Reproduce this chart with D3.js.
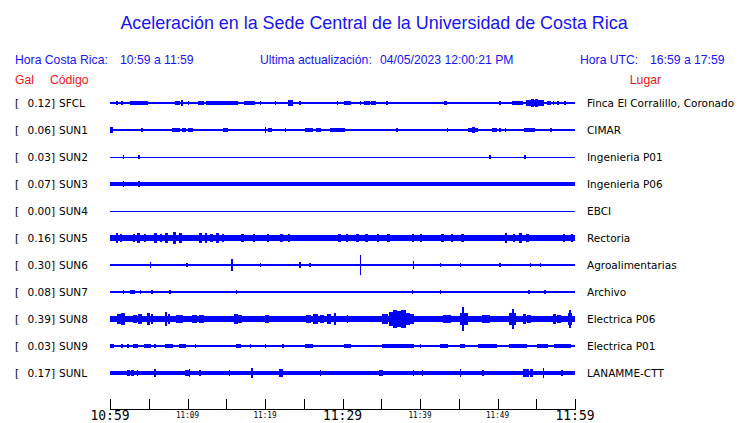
<!DOCTYPE html>
<html><head><meta charset="utf-8">
<script src="https://cdn.jsdelivr.net/npm/d3@7"></script>
<style>body{margin:0;background:#fff}svg{display:block}</style>
</head><body>
<script>
// ---- data ----
const stationCodes = ["SFCL","SUN1","SUN2","SUN3","SUN4","SUN5","SUN6","SUN7","SUN8","SUN9","SUNL"];
const stationGal = ["0.12","0.06","0.03","0.07","0.00","0.16","0.30","0.08","0.39","0.03","0.17"];
const stationPlaces = ["Finca El Corralillo, Coronado","CIMAR","Ingenieria P01","Ingenieria P06","EBCI","Rectoria","Agroalimentarias","Archivo","Electrica P06","Electrica P01","LANAMME-CTT"];
// background noise half-amplitude (Gal)
const baseAmp = [0.025,0.022,0,0.06,0,0.11,0.045,0.045,0.1,0.025,0.075];
// bursts: [start minute, end minute, half-amplitude Gal], minutes after 10:59
const evSFCL = [[0.9,0.9,0.05],[1.5,1.5,0.05],[2.6,4.8,0.06],[8.4,9.0,0.06],[9.2,9.4,0.09],[10.1,10.1,0.05],[11.4,12.0,0.06],[12.5,13.5,0.08],[13.5,16.4,0.06],[17.4,18.7,0.06],[19.4,19.4,0.05],[21.3,21.4,0.065],[23.0,23.6,0.09],[24.5,24.5,0.05],[27.1,27.1,0.04],[29.3,29.4,0.065],[30.3,31.0,0.05],[32.3,32.3,0.05],[32.9,33.5,0.06],[33.8,34.2,0.05],[35.7,35.8,0.05],[38.6,38.6,0.04],[43.2,43.4,0.065],[50.3,50.3,0.05],[51.0,51.0,0.04],[51.9,53.2,0.06],[53.8,55.9,0.09],[54.4,54.6,0.13],[54.9,55.2,0.12],[56.4,56.8,0.06],[57.2,57.2,0.05],[57.8,57.8,0.05],[58.7,58.7,0.05],[59.4,59.4,0.04]];
const evSUN1 = [[0,0.3,0.1],[4.1,4.2,0.06],[4.8,4.8,0.04],[8.1,8.6,0.08],[8.6,9.0,0.06],[9.3,9.7,0.06],[10.1,10.7,0.06],[14.6,15.2,0.06],[15.7,15.7,0.04],[20.0,20.0,0.1],[20.4,20.9,0.06],[22.6,22.6,0.05],[25.2,26.1,0.08],[26.7,27.1,0.06],[28.4,30.3,0.06],[37.0,37.0,0.05],[37.4,37.4,0.04],[38.3,38.3,0.04],[42.2,42.2,0.04],[43.5,43.6,0.065],[46.2,47.4,0.07],[46.8,47.0,0.1],[49.4,49.9,0.06],[50.3,50.3,0.05],[51.0,51.0,0.05],[53.5,54.8,0.07],[55.5,55.5,0.04],[56.8,57.0,0.065],[59.0,59.0,0.04],[59.7,59.7,0.04]];
const evSUN2 = [[1.7,1.7,0.05],[3.7,3.7,0.05],[49.0,49.0,0.05],[53.5,53.5,0.05]];
const evSUN3 = [[1.7,1.7,0.1],[3.7,3.7,0.1],[18.1,18.1,0.08],[49.0,49.0,0.08],[54.8,54.8,0.08]];
const evSUN4 = [];
const evSUN5 = [[0.8,1.0,0.15],[1.3,1.5,0.14],[3.0,3.2,0.14],[3.6,3.8,0.15],[4.4,4.6,0.14],[5.8,6.0,0.15],[6.5,6.7,0.14],[7.2,7.4,0.15],[8.2,8.4,0.18],[9.0,9.2,0.15],[11.6,11.8,0.15],[12.3,12.5,0.16],[13.0,13.2,0.14],[13.8,14.0,0.15],[14.5,14.7,0.14],[17.0,17.2,0.13],[18.5,18.7,0.13],[20.3,20.5,0.13],[22.0,22.2,0.14],[23.0,23.2,0.14],[29.5,29.7,0.14],[30.5,30.7,0.13],[31.8,32.0,0.14],[33.0,33.2,0.14],[34.5,34.7,0.13],[35.8,36.0,0.14],[39.0,39.2,0.14],[40.0,40.2,0.13],[42.8,43.0,0.14],[44.0,44.2,0.14],[45.4,45.6,0.13],[51.0,51.2,0.15],[52.0,52.2,0.14],[52.9,53.1,0.16],[53.8,54.0,0.14],[58.5,58.7,0.13],[59.5,59.7,0.13]];
const evSUN6 = [[5.2,5.2,0.1],[9.9,9.9,0.08],[15.7,15.7,0.18],[19.4,19.4,0.065],[24.5,24.5,0.1],[25.8,25.8,0.08],[32.3,32.3,0.32],[39.1,39.1,0.13],[42.6,42.7,0.065],[45.2,45.2,0.065],[50.3,50.3,0.065],[54.2,54.2,0.08],[55.5,55.5,0.065]];
const evSUN7 = [[1.7,1.7,0.07],[2.6,3.2,0.065],[3.9,3.9,0.065],[5.4,5.4,0.07],[7.7,7.7,0.065],[16.3,16.3,0.07],[39.0,39.0,0.065],[42.6,42.6,0.08],[54.0,54.0,0.08],[56.1,56.1,0.065]];
const evSUN8 = [[1.0,1.3,0.16],[1.5,1.9,0.18],[3.0,3.4,0.14],[3.7,4.1,0.16],[4.8,5.1,0.19],[5.3,5.5,0.15],[7.1,7.3,0.21],[7.5,7.7,0.17],[8.6,9.3,0.13],[10.7,11.2,0.13],[11.6,12.0,0.12],[16.1,16.4,0.16],[16.6,17.0,0.14],[20.0,20.4,0.13],[25.4,25.9,0.14],[26.3,26.8,0.15],[27.2,27.6,0.13],[28.0,28.4,0.15],[29.0,29.0,0.18],[30.6,30.6,0.13],[35.2,35.8,0.16],[36.0,36.5,0.22],[36.6,37.0,0.29],[37.1,37.5,0.26],[37.6,38.1,0.29],[38.2,38.7,0.2],[38.8,39.1,0.15],[43.0,43.4,0.13],[43.6,43.9,0.12],[45.2,45.4,0.2],[45.5,45.6,0.39],[45.7,46.1,0.18],[48.0,48.4,0.13],[48.6,49.0,0.12],[51.6,51.8,0.2],[51.9,52.0,0.33],[52.1,52.3,0.18],[53.3,53.6,0.16],[53.9,54.2,0.14],[57.2,57.5,0.16],[57.8,58.1,0.14],[59.1,59.2,0.2],[59.3,59.4,0.29],[59.5,59.6,0.2]];
const evSUN9 = [[0,0.4,0.06],[1.5,1.5,0.06],[2.3,2.3,0.06],[3.0,3.5,0.06],[4.5,5.2,0.06],[5.8,5.8,0.06],[7.1,8.0,0.06],[9.0,9.7,0.06],[11.0,11.0,0.06],[16.3,16.8,0.06],[18.1,18.1,0.06],[20.0,20.0,0.06],[22.3,22.3,0.06],[25.2,26.1,0.06],[30.3,31.0,0.06],[35.2,39.1,0.06],[40.0,40.0,0.06],[42.6,43.5,0.06],[45.2,45.8,0.06],[47.5,49.9,0.06],[51.6,53.8,0.06],[55.2,56.5,0.06],[57.4,59.4,0.06]];
const evSUNL = [[2.3,2.5,0.11],[2.8,3.0,0.1],[3.5,3.5,0.1],[5.8,5.8,0.13],[9.7,10.1,0.11],[10.2,10.2,0.145],[11.6,11.6,0.11],[15.4,15.4,0.11],[18.3,18.3,0.177],[21.9,22.3,0.12],[27.1,27.1,0.11],[34.8,35.2,0.1],[39.1,39.1,0.11],[40.3,40.3,0.11],[45.2,45.2,0.145],[48.1,48.1,0.1],[53.3,53.6,0.14],[53.8,54.0,0.12],[54.2,54.5,0.145],[55.9,55.9,0.177],[58.3,58.3,0.11]];
const stationEvents = [evSFCL,evSUN1,evSUN2,evSUN3,evSUN4,evSUN5,evSUN6,evSUN7,evSUN8,evSUN9,evSUNL];
const tickMinutes = [0,5,10,15,20,25,30,35,40,45,50,55,60];
const tickLabels = {0:"10:59",10:"11:09",20:"11:19",30:"11:29",40:"11:39",50:"11:49",60:"11:59"};
const bigTicks = [0,30,60];

// ---- drawing ----
const W = 740, H = 423;
const blue = "#1414f5", red = "#f01414";
const svg = d3.select("body").append("svg").attr("width", W).attr("height", H);

const x = d3.scaleLinear().domain([0, 60]).range([110, 575]);
const y = d3.scalePoint().domain(stationCodes).range([103, 373]);
const amp = d3.scaleLinear().domain([0, 0.4]).range([0, 12.4]);

svg.append("text").attr("x", 374).attr("y", 29).attr("text-anchor", "middle")
  .attr("font-family", "Liberation Sans, Arial, sans-serif").attr("font-size", 17.9)
  .attr("fill", blue).text("Aceleración en la Sede Central de la Universidad de Costa Rica");

const hdr = [["Hora Costa Rica:",15],["10:59 a 11:59",120],["Ultima actualización:",260],["04/05/2023 12:00:21 PM",380],["Hora UTC:",580],["16:59 a 17:59",650]];
svg.selectAll("text.hdr").data(hdr).join("text").attr("class","hdr")
  .attr("x", d => d[1]).attr("y", 64).attr("font-family", "Liberation Sans, Arial, sans-serif")
  .attr("font-size", 12.2).attr("fill", blue).text(d => d[0]);
const hdr2 = [["Gal",15,"start"],["Código",50,"start"],["Lugar",661,"end"]];
svg.selectAll("text.hdr2").data(hdr2).join("text").attr("class","hdr2")
  .attr("x", d => d[1]).attr("y", 84).attr("text-anchor", d => d[2])
  .attr("font-family", "Liberation Sans, Arial, sans-serif")
  .attr("font-size", 12.2).attr("fill", red).text(d => d[0]);

const rows = svg.selectAll("g.row").data(stationCodes).join("g").attr("class", "row")
  .attr("transform", d => `translate(0,${y(d)})`);
const lf = "DejaVu Sans, sans-serif", fs = 10.5;
rows.append("text").attr("x", 15).attr("y", 4).attr("font-family", lf).attr("font-size", fs).text("[");
rows.append("text").attr("x", 55).attr("y", 4).attr("text-anchor", "end").attr("font-family", lf).attr("font-size", fs)
  .text((d, i) => stationGal[i] + "]");
rows.append("text").attr("x", 59).attr("y", 4).attr("font-family", lf).attr("font-size", fs).text(d => d);
rows.append("text").attr("x", 587).attr("y", 4).attr("font-family", lf).attr("font-size", fs)
  .text((d, i) => stationPlaces[i]);

rows.each(function(d, i) {
  const g = d3.select(this).append("g").attr("fill", "#0000ff").attr("shape-rendering", "crispEdges");
  const bh = Math.max(1, 2 * amp(baseAmp[i]));
  g.append("rect").attr("x", x(0)).attr("width", x(60) - x(0)).attr("y", -bh / 2).attr("height", bh);
  g.selectAll("rect.ev").data(stationEvents[i]).join("rect").attr("class", "ev")
    .attr("x", e => x(e[0]) - 0.5).attr("width", e => Math.max(1.5, x(e[1]) - x(e[0]) + 1))
    .attr("y", e => -amp(e[2])).attr("height", e => 2 * amp(e[2]));
});

// axis
const ax = svg.append("g").attr("shape-rendering", "crispEdges");
ax.append("line").attr("x1", x(0)).attr("x2", x(60)).attr("y1", 409.5).attr("y2", 409.5).attr("stroke", "#000");
ax.selectAll("line.tk").data(tickMinutes).join("line").attr("class", "tk")
  .attr("x1", d => Math.round(x(d)) + 0.5).attr("x2", d => Math.round(x(d)) + 0.5)
  .attr("y1", 399).attr("y2", 409.5).attr("stroke", "#000");
svg.selectAll("text.tl").data(tickMinutes.filter(m => tickLabels[m])).join("text").attr("class", "tl")
  .attr("x", d => x(d)).attr("y", d => bigTicks.includes(d) ? 419.5 : 417.5).attr("text-anchor", "middle")
  .attr("font-family", "DejaVu Sans Mono, monospace")
  .attr("font-size", d => bigTicks.includes(d) ? 13.5 : 8.5)
  .attr("textLength", d => bigTicks.includes(d) ? 39 : 23).attr("lengthAdjust", "spacingAndGlyphs")
  .text(d => tickLabels[d]);
</script>
</body></html>
